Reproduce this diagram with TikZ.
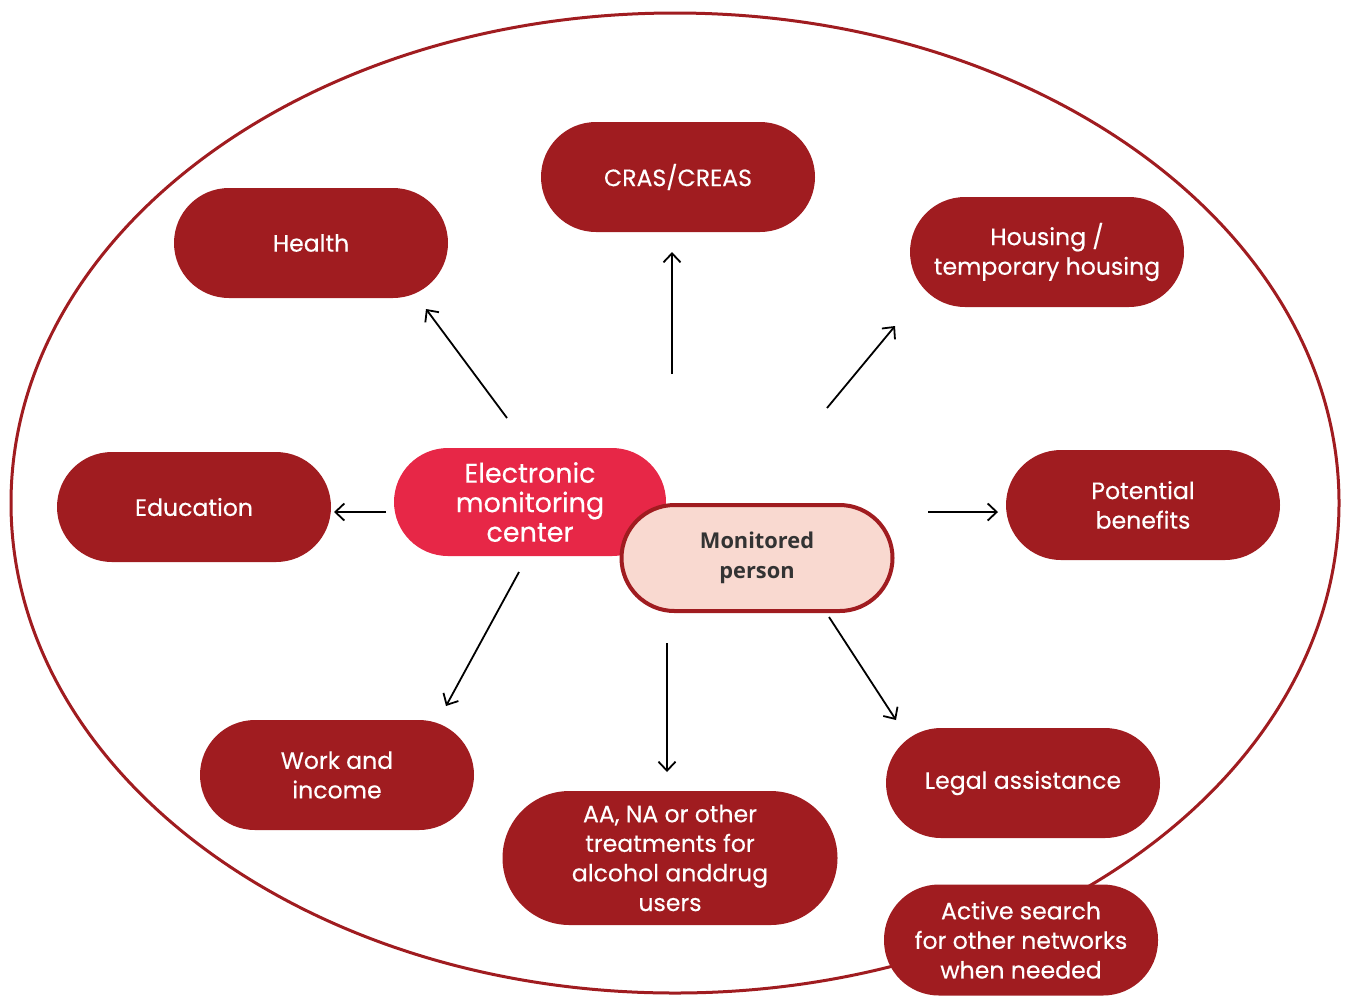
\documentclass[tikz,border=0pt]{standalone}
\usepackage{fontspec}
\setmainfont{Poppins}[FakeBold=0.35]
\newfontfamily\mpfont{Open Sans}
\usetikzlibrary{arrows.meta}
\definecolor{dred}{HTML}{A01C20}
\definecolor{bred}{HTML}{E72747}
\definecolor{pinkf}{HTML}{F9D9D0}
\definecolor{dgray}{HTML}{333333}
\tikzset{
  pill/.style={rounded corners=55pt, fill=dred, text=white, minimum width=274pt, minimum height=110pt, align=center, font=\fontsize{23.6}{29.6}\selectfont, inner sep=0pt},
  arr/.style={line width=1.8pt, -{Straight Barb[length=9pt,width=17pt,line width=1.8pt]}}
}
\begin{document}
\begin{tikzpicture}[x=1pt,y=-1pt]
\useasboundingbox (0,0) rectangle (1348,997);
\draw[dred, line width=3pt] (675,503) ellipse [x radius=664, y radius=490];
\node[pill] (health) at (311,243) {Health};
\node[pill] (cras) at (678,177) {CRAS/CREAS};
\node[pill] (housing) at (1047,252) {Housing /\\temporary housing};
\node[pill] (edu) at (194,507) {Education};
\node[pill] (ben) at (1143,505) {Potential\\benefits};
\node[pill] (work) at (337,775) {Work and\\income};
\node[pill, rounded corners=67pt, minimum width=335pt, minimum height=134pt] (aa) at (670,858) {AA, NA or other\\treatments for\\alcohol anddrug\\users};
\node[pill] (legal) at (1023,783) {Legal assistance};
\node[pill, minimum height=111pt] (active) at (1021,940) {Active search\\for other networks\\when needed};
\node[pill, fill=bred, rounded corners=54pt, minimum width=272pt, minimum height=108pt, font=\fontsize{27}{29.5}\selectfont] (emc) at (530,502) {Electronic\\monitoring\\center};
\node[pill, fill=pinkf, draw=dred, line width=4pt, text=dgray, minimum width=271pt, minimum height=106pt, rounded corners=53pt, font=\mpfont\bfseries\fontsize{21.8}{30}\selectfont] (mp) at (757,558) {Monitored\\person};
\coordinate (h0) at (507,418); \coordinate (h1) at (426,309);
\coordinate (c0) at (672,374); \coordinate (c1) at (672,252);
\coordinate (o0) at (827,408); \coordinate (o1) at (895,326);
\coordinate (e0) at (386,512); \coordinate (e1) at (334,512);
\coordinate (b0) at (928,512); \coordinate (b1) at (998,512);
\coordinate (w0) at (519,572); \coordinate (w1) at (446,706);
\coordinate (a0) at (667,643); \coordinate (a1) at (667,772);
\coordinate (l0) at (829,617); \coordinate (l1) at (896,720);
\draw[arr] (h0) -- (h1);
\draw[arr] (c0) -- (c1);
\draw[arr] (o0) -- (o1);
\draw[arr] (e0) -- (e1);
\draw[arr] (b0) -- (b1);
\draw[arr] (w0) -- (w1);
\draw[arr] (a0) -- (a1);
\draw[arr] (l0) -- (l1);
\end{tikzpicture}
\end{document}
